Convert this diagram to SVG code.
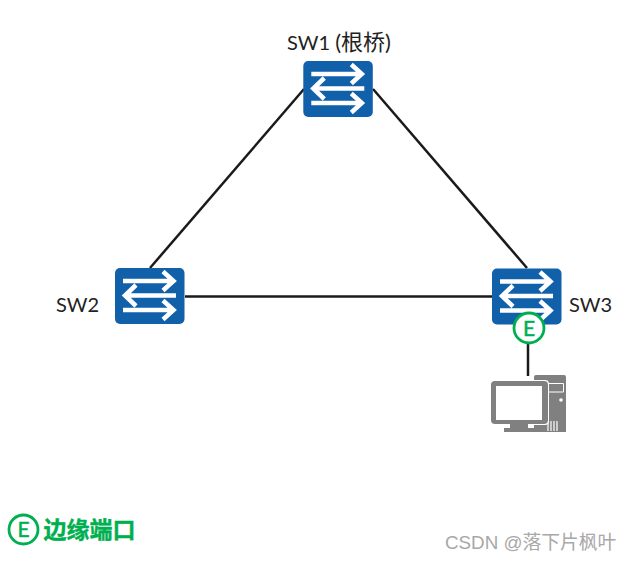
<svg xmlns="http://www.w3.org/2000/svg" width="632" height="561" viewBox="0 0 632 561">
<style>
.lbl{font-family:"Lato","Noto Sans CJK SC",sans-serif;font-size:20px;fill:#222}
.link{stroke:#1a1a1a;stroke-width:2.500;fill:none}
.box{fill:#1160aa}
.arr{stroke:#fff;stroke-width:4.500;fill:none}
.pc{fill:#808080}
.e{font-family:"Lato",sans-serif;font-weight:400;fill:#00b050;text-anchor:middle;stroke:#00b050;stroke-width:0.500}
.ring{fill:#fff;stroke:#00b050;stroke-width:2.800}
</style>
<defs>
<g id="sw">
<rect class="box" x="0" y="0" width="69.5" height="56" rx="5"/>
<path class="arr" d="M8 13H58M48 3.500L58.500 13L48 22.500"/>
<path class="arr" d="M61 27.500H11M21 17L10 27.500L21 38"/>
<path class="arr" d="M8 42H58M48 32.500L58.500 42L48 51.500"/>
</g>
</defs>
<rect width="632" height="561" fill="#fff"/>
<g id="connectors">
<path class="link" d="M304 89L150 268"/>
<path class="link" d="M373 89L527 268"/>
<path class="link" d="M185 296.500H492"/>
<path class="link" d="M528 343V376"/>
</g>
<g id="sw1"><use href="#sw" x="303.300" y="61"/><text class="lbl" x="287" y="50">SW1 <tspan font-size="22">(根桥)</tspan></text></g>
<g id="sw2"><use href="#sw" x="115" y="268"/><text class="lbl" x="56" y="312">SW2</text></g>
<g id="sw3"><use href="#sw" x="492" y="268.500"/><text class="lbl" x="569" y="312">SW3</text></g>
<g id="edge-port"><circle class="ring" cx="529" cy="328" r="15"/><text class="e" x="529" y="335.500" font-size="21">E</text></g>
<g id="pc">
<path class="pc" d="M536 375H564Q566 375 566 377V432H534V377Q534 375 536 375Z"/>
<path d="M547 383.500H563.500V392H547Z" fill="#808080" stroke="#fff" stroke-width="1"/>
<circle cx="561" cy="400" r="1.800" fill="#fff"/>
<path d="M548 421V431M551 421V431M554 421V431M557 421V431" stroke="#fff" stroke-width="1.200"/>
<rect x="490" y="380" width="59" height="45" rx="4" fill="#fff"/>
<rect class="pc" x="491" y="381" width="57" height="43" rx="4"/>
<rect x="496" y="386" width="46" height="34" fill="#fff"/>
<rect class="pc" x="510" y="424" width="18" height="5"/>
<rect class="pc" x="504" y="428" width="31" height="4"/>
</g>
<g id="legend">
<circle class="ring" cx="23.500" cy="529.500" r="14.500"/>
<text class="e" x="23.500" y="537" font-size="21">E</text>
<text x="43.500" y="538" font-family="'Noto Sans CJK SC',sans-serif" font-size="23" font-weight="700" fill="#00b050" stroke="#00b050" stroke-width="0.400">边缘端口</text>
</g>
<text x="445" y="549" font-family="'Liberation Sans','Noto Sans CJK SC',sans-serif" font-size="18.800" fill="#a8a8a8">CSDN @落下片枫叶</text>
</svg>
